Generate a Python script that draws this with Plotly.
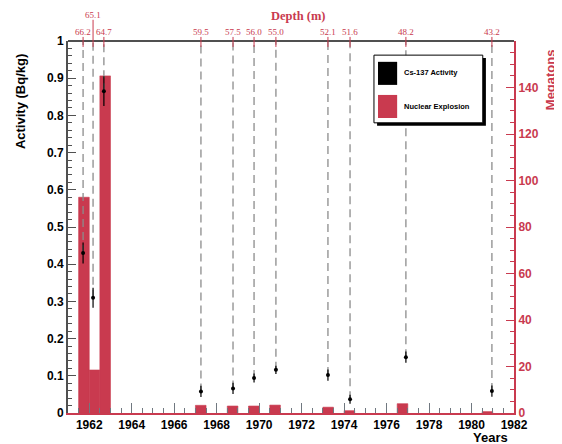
import plotly.graph_objects as go

# ---------------- data ----------------
sample_years = [1961.71, 1962.18, 1962.69, 1967.26, 1968.77, 1969.76, 1970.79,
                1973.24, 1974.28, 1976.91, 1980.96]
depth_labels = ["66.2", "65.1", "64.7", "59.5", "57.5", "56.0", "55.0",
                "52.1", "51.6", "48.2", "43.2"]
activity = [0.43, 0.31, 0.865, 0.058, 0.066, 0.094, 0.116, 0.102, 0.037, 0.15, 0.059]
activity_err = [0.028, 0.027, 0.04, 0.015, 0.015, 0.012, 0.011, 0.015, 0.012, 0.015, 0.015]

explosion_bins = [1961.75, 1962.25, 1962.75, 1967.25, 1968.75, 1969.75, 1970.75,
                  1973.25, 1974.25, 1976.75, 1980.75]
megatons = [92.8, 18.5, 145.0, 3.3, 3.0, 3.0, 3.4, 2.5, 1.0, 4.0, 0.6]

year_ticks = list(range(1962, 1983, 2))
megaton_ticks = list(range(0, 141, 20))

RED = "#c93a4f"
AXG = "#505050"
SANS = "Liberation Sans"
SERIF = "Liberation Serif"

fig = go.Figure()

# nuclear explosions histogram (right axis)
fig.add_trace(go.Bar(
    x=explosion_bins, y=megatons, width=0.5, yaxis="y",
    marker=dict(color=RED, line=dict(width=0.6, color=RED)), showlegend=False,
))

# dashed guide lines from the top axis down to each sample
dx, dy = [], []
for t, a in zip(sample_years, activity):
    dx += [t, t, None]
    dy += [a, 1.0, None]
fig.add_trace(go.Scatter(
    x=dx, y=dy, yaxis="y2", mode="lines",
    line=dict(color="#8c8c8c", width=1.3, dash="8px,5px"),
    showlegend=False, hoverinfo="skip",
))

# Cs-137 activity
fig.add_trace(go.Scatter(
    x=sample_years, y=activity, yaxis="y2", mode="markers",
    marker=dict(color="black", size=4),
    error_y=dict(type="data", array=activity_err, color="black",
                 thickness=1.2, width=0),
    showlegend=False,
))

# page body has an 8px margin, so the figure is 8px smaller and shifted
fig.update_layout(
    width=554, height=436,
    margin=dict(l=60, r=48, t=33, b=31, autoexpand=False),
    paper_bgcolor="white", plot_bgcolor="white",
    showlegend=False,
    font=dict(family=SANS, size=12, color="black"),
    xaxis=dict(
        range=[1961, 1982], tickmode="array", tickvals=year_ticks,
        ticks="inside", ticklen=10, tickcolor="#707880", tickwidth=1,
        minor=dict(tickmode="linear", tick0=1961, dtick=0.5, ticks="inside",
                   ticklen=5, tickcolor="#707880"),
        showline=True, linecolor=RED, linewidth=2,
        showgrid=False, zeroline=False, automargin=False,
        tickfont=dict(family=SANS, size=12, weight="bold", color="black"),
    ),
    yaxis=dict(
        side="right", range=[0, 160], tickmode="array", tickvals=megaton_ticks,
        ticks="inside", ticklen=8, tickcolor=RED, tickwidth=1.2,
        minor=dict(tickmode="linear", tick0=0, dtick=5, ticks="inside",
                   ticklen=4, tickcolor=RED),
        showline=True, linecolor=RED, linewidth=2,
        showgrid=False, zeroline=False, automargin=False,
        tickfont=dict(family=SANS, size=12, weight="bold", color=RED),
    ),
    yaxis2=dict(
        overlaying="y", side="left", range=[0, 1], tickmode="linear",
        tick0=0, dtick=0.1,
        ticks="inside", ticklen=8, tickcolor=AXG, tickwidth=1.2,
        minor=dict(tickmode="linear", tick0=0, dtick=0.02, ticks="inside",
                   ticklen=4, tickcolor=AXG),
        showline=True, linecolor=AXG, linewidth=2,
        showgrid=False, zeroline=False, automargin=False,
        tickfont=dict(family=SANS, size=12, weight="bold", color="black"),
    ),
)

shapes = []
annotations = []

# top frame line
shapes.append(dict(type="line", xref="paper", yref="paper", x0=0, x1=1, y0=1, y1=1,
                   line=dict(color=AXG, width=2)))

# depth labels and red ticks on the top axis
for i, (t, d) in enumerate(zip(sample_years, depth_labels)):
    raised = (d == "65.1")
    ytop = 1.057 if raised else 1.011
    shapes.append(dict(type="line", xref="x", yref="paper", x0=t, x1=t,
                       y0=0.984, y1=ytop, line=dict(color=RED, width=1)))
    annotations.append(dict(
        x=t, xref="x", y=(1.069 if raised else 1.024), yref="paper",
        text=d, showarrow=False, xanchor="center", yanchor="middle",
        font=dict(family=SERIF, size=9, color=RED),
    ))

annotations.append(dict(
    x=0.516, xref="paper", y=1.068, yref="paper", text="Depth (m)",
    showarrow=False, xanchor="center", yanchor="middle",
    font=dict(family=SERIF, size=12.5, weight="bold", color=RED),
))
annotations.append(dict(
    x=-0.108, xref="paper", y=0.838, yref="paper", text="Activity (Bq/kg)",
    textangle=-90, showarrow=False, xanchor="center", yanchor="middle",
    font=dict(family=SANS, size=13, weight="bold", color="black"),
))
annotations.append(dict(
    x=1.081, xref="paper", y=0.895, yref="paper", text="Megatons",
    textangle=-90, showarrow=False, xanchor="center", yanchor="middle",
    font=dict(family=SANS, size=13, weight="bold", color=RED),
))
annotations.append(dict(
    x=0.99, xref="paper", y=-0.066, yref="paper", text="Years",
    showarrow=False, xanchor="right", yanchor="middle",
    font=dict(family=SANS, size=13, weight="bold", color="black"),
))

# legend box drawn by hand (with ROOT-style shadow)
shapes.append(dict(type="rect", xref="paper", yref="paper", x0=0.693, x1=0.937,
                   y0=0.772, y1=0.954, fillcolor="black", line=dict(width=0)))
shapes.append(dict(type="rect", xref="paper", yref="paper", x0=0.686, x1=0.930,
                   y0=0.780, y1=0.962, fillcolor="white",
                   line=dict(color="black", width=1)))
shapes.append(dict(type="rect", xref="paper", yref="paper", x0=0.695, x1=0.738,
                   y0=0.882, y1=0.944, fillcolor="black", line=dict(width=0)))
shapes.append(dict(type="rect", xref="paper", yref="paper", x0=0.695, x1=0.738,
                   y0=0.793, y1=0.855, fillcolor=RED, line=dict(width=0)))
annotations.append(dict(
    x=0.749, xref="paper", y=0.914, yref="paper", text="Cs-137 Activity",
    showarrow=False, xanchor="left", yanchor="middle",
    font=dict(family=SANS, size=7.5, weight="bold", color="black"),
))
annotations.append(dict(
    x=0.749, xref="paper", y=0.823, yref="paper", text="Nuclear Explosion",
    showarrow=False, xanchor="left", yanchor="middle",
    font=dict(family=SANS, size=7.5, weight="bold", color="black"),
))

fig.update_layout(shapes=shapes, annotations=annotations)

fig.write_html("out.html")
